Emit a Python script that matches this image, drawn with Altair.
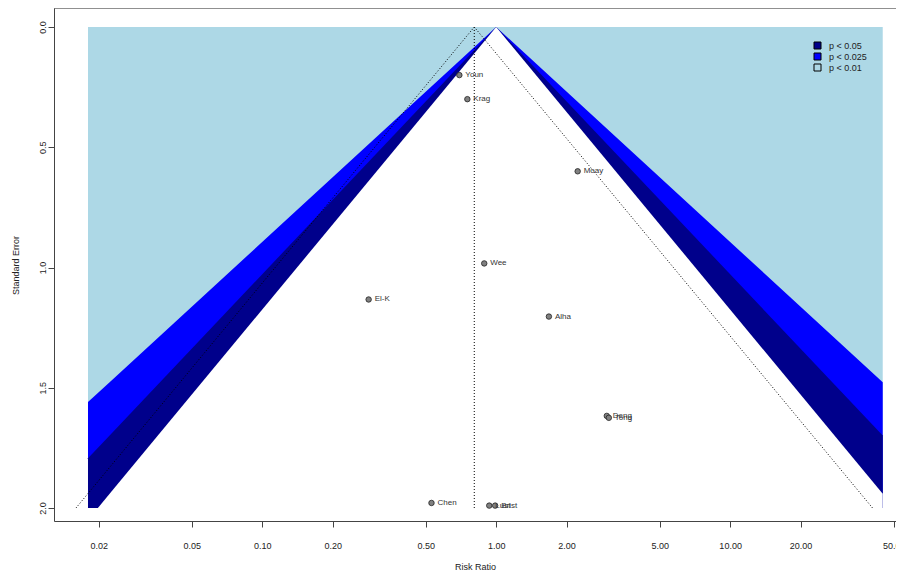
import math
import pandas as pd
import altair as alt

# ---- data ----
studies = ["Youn", "Krag", "Moay", "Wee", "El-K", "Alha", "Deng", "Tong", "Chen", "Lust", "Brist"]
risk_ratio = [0.696, 0.753, 2.23, 0.889, 0.285, 1.68, 2.97, 3.03, 0.529, 0.934, 0.99]
std_err = [0.200, 0.300, 0.600, 0.983, 1.133, 1.204, 1.617, 1.625, 1.979, 1.990, 1.990]

pooled_rr = 0.806          # summary estimate (vertical dotted line)
max_se = 2.0               # bottom of funnel / shading
shade_lo_rr = 0.018        # left end of the shaded region
shade_hi_rr = 44.9         # right end of the shaded region

contour_labels = ["p < 0.05", "p < 0.025", "p < 0.01"]
contour_z = [1.96, 2.24, 2.576]
contour_colors = ["#00008B", "#0000FF", "#ADD8E6"]
white_z = 1.96
ci_z = 1.96

x_ticks = [0.02, 0.05, 0.1, 0.2, 0.5, 1, 2, 5, 10, 20, 50]
y_ticks = [0.0, 0.5, 1.0, 1.5, 2.0]

FONT = "Liberation Sans"
W, H = 842, 513

x_scale = alt.Scale(type="log", domain=[math.exp(-4.352), math.exp(3.935)], nice=False)
y_scale = alt.Scale(domain=[-0.079, 2.054], reverse=True, nice=False, zero=False)

x_axis = alt.Axis(values=x_ticks, format=".2f", title="Risk Ratio", labelFontSize=9,
                  titleFontSize=9, titleFontWeight="normal", tickSize=6, labelPadding=18,
                  labelBaseline="middle", labelFlush=False, labelOverlap=False, grid=False,
                  domainColor="#444", tickColor="#444", labelColor="#222", titleColor="#222",
                  titleY=45, titleBaseline="middle", labelFont=FONT, titleFont=FONT)
y_axis = alt.Axis(values=y_ticks, format=".1f", title="Standard Error", labelFontSize=9,
                  titleFontSize=9, titleFontWeight="normal", tickSize=6, labelPadding=6,
                  labelAngle=270, labelAlign="center", labelBaseline="middle",
                  labelFlush=False, labelOverlap=False, grid=False,
                  domainColor="#444", tickColor="#444", labelColor="#222", titleColor="#222",
                  titleX=-39, titleY=257, titleAngle=270, titleAlign="center",
                  titleBaseline="middle", labelFont=FONT, titleFont=FONT)


def X(field):
    return alt.X(field, type="quantitative", scale=x_scale, axis=x_axis)


def Y(field):
    return alt.Y(field, type="quantitative", scale=y_scale, axis=y_axis)


def wedge(z, label):
    L, R = math.log(shade_lo_rr), math.log(shade_hi_rr)
    ses = sorted({0.0, max_se} | {s for s in (R / z, -L / z) if s < max_se})
    rows = []
    for s in ses:
        rows.append({"se": s, "lo": math.exp(max(-z * s, L)),
                     "hi": math.exp(min(z * s, R)), "region": label})
    return pd.DataFrame(rows)


color_scale = alt.Scale(domain=contour_labels, range=contour_colors)
legend = alt.Legend(title=None, orient="none", legendX=759, legendY=33,
                    symbolType="square", symbolSize=49, symbolStrokeColor="black",
                    symbolStrokeWidth=1, symbolOpacity=1, labelFontSize=9, labelOffset=7,
                    rowPadding=0, labelColor="#222", labelFont=FONT)

bg_df = pd.DataFrame({"lo": [shade_lo_rr], "hi": [shade_hi_rr], "s0": [0.0],
                      "s1": [max_se], "region": [contour_labels[2]]})
bg = alt.Chart(bg_df).mark_rect().encode(
    x=X("lo"), x2="hi", y=Y("s0"), y2="s1",
    color=alt.Color("region:N", scale=color_scale, legend=legend))

blue = alt.Chart(wedge(contour_z[2], contour_labels[1])).mark_area(orient="horizontal").encode(
    y=Y("se"), x=X("lo"), x2="hi",
    color=alt.Color("region:N", scale=color_scale, legend=legend))

dblue = alt.Chart(wedge(contour_z[1], contour_labels[0])).mark_area(orient="horizontal").encode(
    y=Y("se"), x=X("lo"), x2="hi",
    color=alt.Color("region:N", scale=color_scale, legend=legend))

white = alt.Chart(wedge(white_z, "none")).mark_area(orient="horizontal", color="white").encode(
    y=Y("se"), x=X("lo"), x2="hi")

lest = math.log(pooled_rr)
ci_df = pd.DataFrame({"rr": [math.exp(lest - ci_z * max_se), pooled_rr, math.exp(lest + ci_z * max_se)],
                      "se": [max_se, 0.0, max_se]})
ci_lines = alt.Chart(ci_df).mark_line(color="black", strokeDash=[1, 2], strokeWidth=1).encode(
    x=X("rr"), y=Y("se"))

ref_df = pd.DataFrame({"rr": [pooled_rr], "s0": [0.0], "s1": [max_se]})
ref_line = alt.Chart(ref_df).mark_rule(color="black", strokeDash=[1, 2], strokeWidth=1).encode(
    x=X("rr"), y=Y("s0"), y2="s1")

st_df = pd.DataFrame({"study": studies, "rr": risk_ratio, "se": std_err})
pts = alt.Chart(st_df).mark_circle(color="#808080", stroke="#222", strokeWidth=0.8,
                                   size=30, opacity=1).encode(x=X("rr"), y=Y("se"))
labels = alt.Chart(st_df).mark_text(align="left", baseline="middle", dx=6, fontSize=8,
                                    color="#333", font=FONT).encode(
    x=X("rr"), y=Y("se"), text="study:N")

top_border = alt.Chart(bg_df).mark_rule(color="#444", strokeWidth=1).encode(
    x=alt.value(0), x2=alt.value(W), y=alt.value(0))

chart = alt.layer(bg, blue, dblue, white, ci_lines, ref_line, pts, labels, top_border).properties(
    width=W, height=H,
    autosize=alt.AutoSizeParams(type="none"),
    padding={"left": 46, "top": 0, "right": 0, "bottom": 50},
).configure_view(stroke="transparent").configure(font=FONT)

chart.save("out.html", embed_options={"renderer": "svg", "actions": False})
